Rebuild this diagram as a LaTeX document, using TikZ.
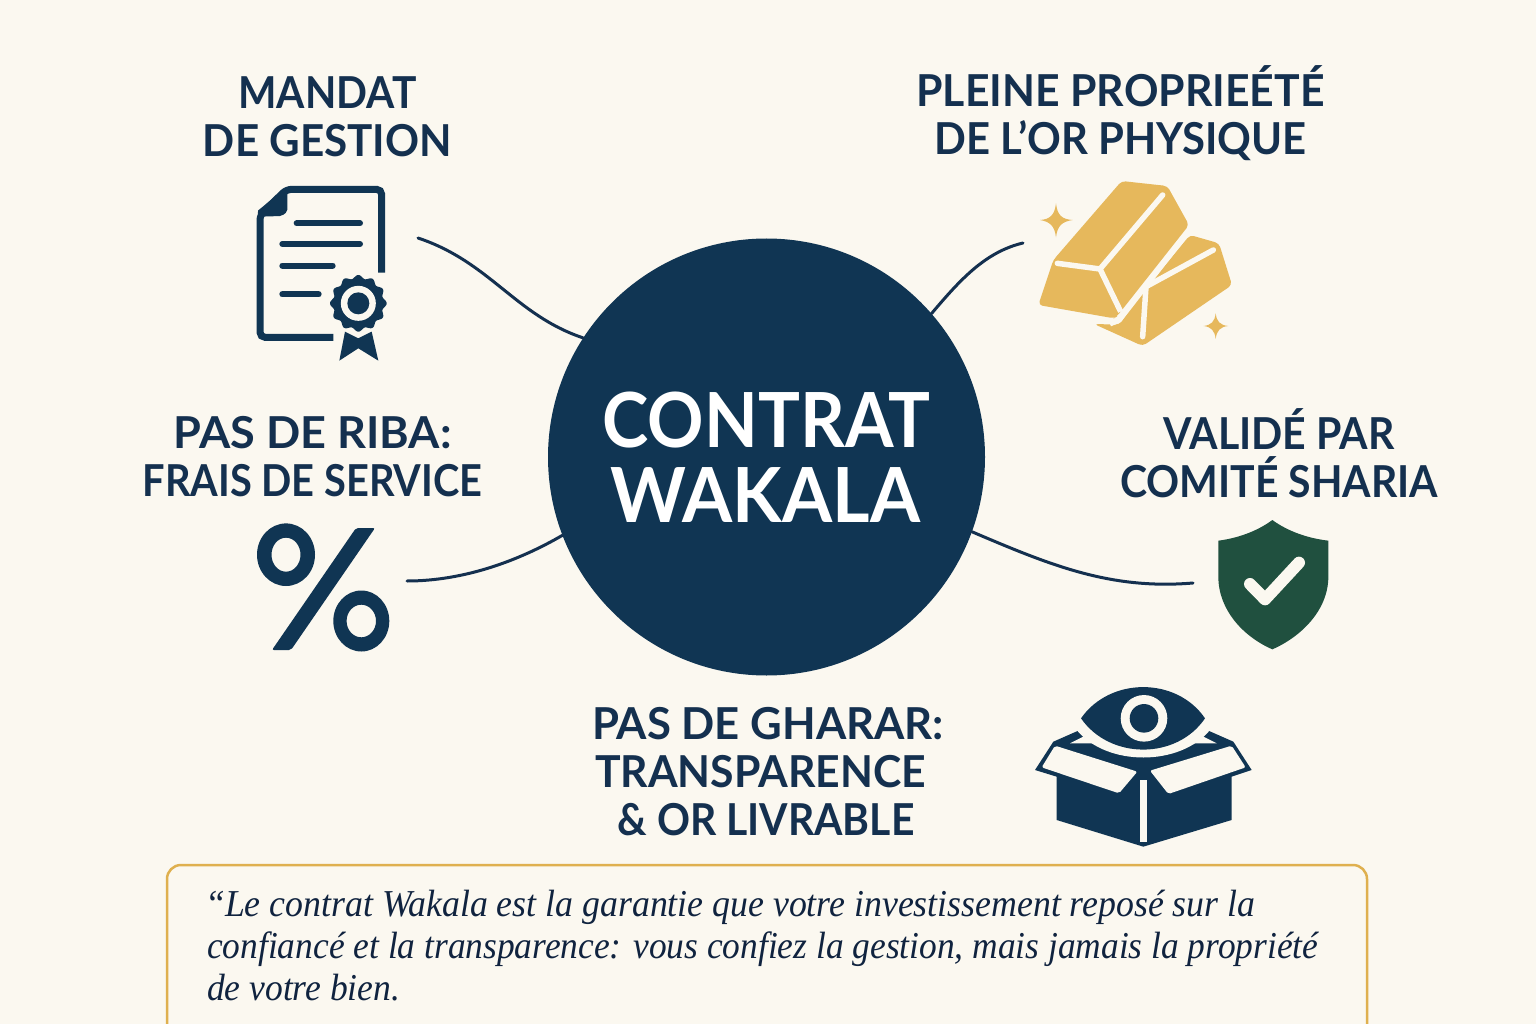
\documentclass[tikz,border=0pt]{standalone}
\usepackage{graphicx}
\usepackage{fontspec}
\setmainfont{Lato}
\newfontfamily\quotefont{Liberation Serif}
\newcommand{\fitline}[2]{\resizebox{#1pt}{\height}{#2}}
\definecolor{bgc}{HTML}{FBF8F0}
\definecolor{navy}{HTML}{103553}
\definecolor{ink}{HTML}{14304F}
\definecolor{gold}{HTML}{E6B85C}
\definecolor{boxgold}{HTML}{DFB04F}
\definecolor{shieldc}{HTML}{20503F}
\definecolor{quoteink}{HTML}{10233F}
\tikzset{
  label/.style={text=ink,font=\fontsize{44}{48}\selectfont\bfseries,align=center,inner sep=0pt},
  link/.style={draw=ink,line width=3pt,line cap=round},
  zoomed/.style={x=0.33333pt,y=-0.33333pt},
}
\begin{document}
\begin{tikzpicture}[x=1pt,y=-1pt]
\useasboundingbox (0,0) rectangle (1536,1024);
\fill[bgc] (0,0) rectangle (1536,1024);

% hub
\node[circle,fill=navy,minimum size=437pt,inner sep=0pt,text=white,align=center,
      font=\fontsize{76}{75}\selectfont\bfseries] (hub) at (766.5,457) {\fitline{328}{CONTRAT}\\\fitline{310}{WAKALA}\hspace*{3pt}\mbox{}};

% labels
\node[label] (mandat) at (327.5,117) {\fitline{178}{MANDAT}\\\fitline{249}{DE GESTION}};
\node[label] (or) at (1120.5,113) {\fitline{408}{PLEINE PROPRIEÉTÉ}\\\fitline{372}{DE L’OR PHYSIQUE}};
\node[label] (riba) at (312.5,457) {\fitline{278}{PAS DE RIBA:}\\\fitline{340}{FRAIS DE SERVICE}};
\node[label] (sharia) at (1279,453) {\fitline{231}{VALIDÉ PAR}\\\fitline{318}{COMITÉ SHARIA}};
\node[label] (gharar) at (766,772) {\hspace*{4pt}\fitline{352}{PAS DE GHARAR:}\\\fitline{331}{TRANSPARENCE}\hspace*{11pt}\mbox{}\\\fitline{297}{\& OR LIVRABLE}};

% connector ends
\coordinate (docend) at (418,238);
\coordinate (goldend) at (1023,243);
\coordinate (pctend) at (407,581);
\coordinate (shieldend) at (1193,583);
\draw[link] (docend) .. controls (490,262) and (515,315) .. (hub.147.6);
\draw[link] (goldend) .. controls (985,252) and (960,280) .. (hub.41.1);
\draw[link] (pctend) .. controls (465,581) and (520,560) .. (hub.201.7);
\draw[link] (shieldend) .. controls (1110,590) and (1050,565) .. (hub.-20.3);

% document icon
\begin{scope}[shift={(230,170)},zoomed]
  \draw[navy,line width=7pt,rounded corners=5pt] (455,308)--(455,58)--(170,58)--(90,135)--(90,502)--(310,502);
  \fill[navy,rounded corners=2pt] (172,50)--(80,125)--(90,140)--(155,138)--(172,125)--cycle;
  \foreach \xa/\xb/\yy in {200/390/160,157/390/222,157/308/287,157/266/373}
    \draw[navy,line width=6pt,line cap=round] (\xa,\yy)--(\xb,\yy);
  \fill[navy] (345,485)--(328,572)--(385,535)--(445,572)--(425,485)--(385,505)--cycle;
  \fill[navy] plot[smooth cycle,domain=0:358,samples=180] ({385+(80+5*cos(12*\x))*cos(\x)},{400+(80+5*cos(12*\x))*sin(\x)});
  \fill[bgc] (385,400) circle[radius=17.5pt];
  \fill[navy] (385,400) circle[radius=11pt];
\end{scope}

% gold bars
\begin{scope}[shift={(1020,170)},zoomed]
  \fill[gold,rounded corners=4pt] (510,195)--(597,220)--(636,345)--(368,528)--(222,462)--(298,464)--(350,390)--cycle;
  \fill[gold,rounded corners=4pt] (305,33)--(442,48)--(507,165)--(290,440)--(282,445)--(55,405)--(100,270)--cycle;
  \draw[bgc,line width=5.5pt,line cap=round,line join=round] (112,280)--(240,297)--(428,75);
  \draw[bgc,line width=5.5pt] (240,297)--(302,425);
  \draw[bgc,line width=5pt] (510,178)--(298,450)--(270,462);
  \draw[bgc,line width=5.5pt,line cap=round] (580,240)--(378,350);
  \draw[bgc,line width=5.5pt,line cap=round] (378,350)--(368,500);
  \fill[gold] (108,100) .. controls (112,135) and (125,148) .. (158,150) .. controls (125,155) and (112,168) .. (108,202) .. controls (104,168) and (90,155) .. (60,150) .. controls (90,148) and (104,135) .. (108,100) -- cycle;
  \fill[gold] (587,430) .. controls (590,455) and (600,465) .. (624,468) .. controls (600,471) and (590,482) .. (587,507) .. controls (584,482) and (574,471) .. (551,468) .. controls (574,465) and (584,455) .. (587,430) -- cycle;
\end{scope}

% percent sign
\fill[navy,even odd rule] (286,554.7) ellipse[x radius=29pt,y radius=31.3pt] (286,554.7) ellipse[x radius=14.5pt,y radius=17pt];
\fill[navy,even odd rule] (361.3,621) ellipse[x radius=28pt,y radius=30.5pt] (361.3,621) ellipse[x radius=14.7pt,y radius=16.3pt];
\fill[navy,rounded corners=2pt] (356,528)--(375,528)--(291,650)--(272,650)--cycle;

% shield
\begin{scope}[shift={(1200,510)},zoomed]
  \fill[shieldc] (217,30) .. controls (170,65) and (110,85) .. (55,92) -- (55,200) .. controls (55,300) and (130,380) .. (217,418) .. controls (304,380) and (385,300) .. (385,200) -- (385,92) .. controls (325,85) and (265,65) .. (217,30) -- cycle;
  \draw[bgc,line width=12pt,line cap=round,line join=round] (150,222)--(195,268)--(297,158);
\end{scope}

% eye box
\begin{scope}[shift={(1020,680)},zoomed]
  \fill[navy,line join=round] (175,152)--(100,185)--(45,270)--(110,290)--(110,420)--(370,500)--(635,420)--(635,290)--(695,270)--(640,185)--(565,152)--cycle;
  \fill[bgc] (175,120) rectangle (565,150);
  \fill[bgc,rounded corners=2pt] (105,197)--(65,262)--(297,340)--(352,275)--cycle;
  \fill[bgc,rounded corners=2pt] (635,197)--(677,262)--(445,342)--(390,272)--cycle;
  \fill[bgc] (150,190)--(190,170)--(232,190)--cycle;
  \fill[bgc] (590,190)--(550,170)--(508,190)--cycle;
  \fill[bgc] (360,300) rectangle (380,485);
  \fill[bgc] (150,115) .. controls (240,20) and (500,20) .. (590,115) -- (570,150) .. controls (480,260) and (260,260) .. (170,150) -- cycle;
  \fill[navy] (183,115) .. controls (270,-10) and (470,-10) .. (555,115) .. controls (470,240) and (270,240) .. (183,115) -- cycle;
  \fill[bgc] (372,115) circle[radius=23.3pt];
  \fill[navy] (372,115) circle[radius=14.3pt];
\end{scope}

% quote box
\draw[boxgold,line width=2.5pt,rounded corners=14pt] (167,1026)--(167,865)--(1367,865)--(1367,1026);
\node[anchor=north west,inner sep=0pt,align=left,text=quoteink,
      font=\quotefont\itshape\fontsize{38}{42.3}\selectfont] (quote) at (205,889.5)
  {\fitline{1050}{“Le contrat Wakala est la garantie que votre investissement reposé sur la}\\
   \hspace*{2pt}\fitline{1111}{confiancé et la transparence: vous confiez la gestion, mais jamais la propriété}\\
   \hspace*{2pt}\fitline{193}{de votre bien.}};
\end{tikzpicture}
\end{document}
